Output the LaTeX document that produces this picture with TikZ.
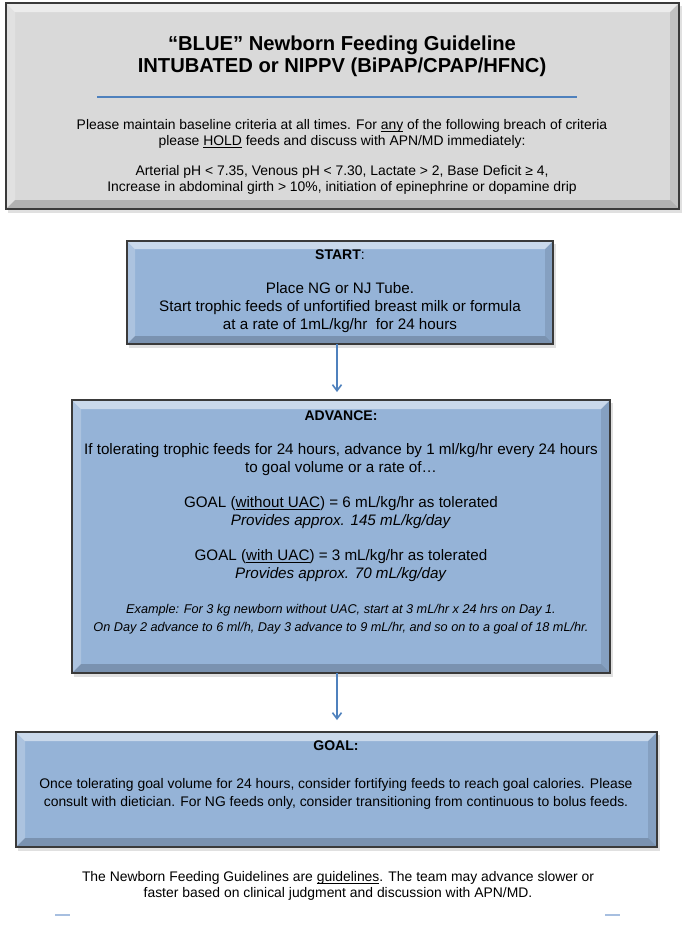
\documentclass[tikz,border=0pt]{standalone}
\usepackage{fontspec}
\setmainfont{Liberation Sans}
\usetikzlibrary{calc,arrows.meta}
\definecolor{boxblue}{HTML}{95B3D7}
\definecolor{boxgray}{HTML}{D9D9D9}
\definecolor{linkblue}{HTML}{4F81BD}
\definecolor{edgegray}{HTML}{3A3A3A}
\definecolor{dashblue}{HTML}{A7BFE0}
\newcommand\ulx[1]{\underline{\smash{#1}}}
\newcommand\bevelfx[2]{%
 \fill[white,opacity=.5] (#1.north west) -- (#1.north east) -- ($(#1.north east)+(-#2,#2)$) -- ($(#1.north west)+(#2,#2)$) -- cycle;
 \fill[white,opacity=.22] (#1.north west) -- ($(#1.north west)+(#2,#2)$) -- ($(#1.south west)+(#2,-#2)$) -- (#1.south west) -- cycle;
 \fill[black,opacity=.10] (#1.north east) -- ($(#1.north east)+(-#2,#2)$) -- ($(#1.south east)+(-#2,-#2)$) -- (#1.south east) -- cycle;
 \fill[black,opacity=.18] (#1.south west) -- ($(#1.south west)+(#2,-#2)$) -- ($(#1.south east)+(-#2,-#2)$) -- (#1.south east) -- cycle;
 \draw[edgegray,line width=1.3pt] (#1.north west) rectangle (#1.south east);}
\newcommand\shadowfx[1]{%
 \fill[black,opacity=.12] ($(#1.north west)+(2,3)$) rectangle ($(#1.south east)+(3,4)$);}
\tikzset{
 panel/.style={inner sep=0pt, outer sep=0pt, anchor=north west},
 txt/.style={align=center, inner sep=0pt, font=\fontsize{13.9}{16}\selectfont},
 bodytxt/.style={align=center, inner sep=0pt, font=\fontsize{15.2}{18}\selectfont},
 goaltxt/.style={align=center, inner sep=0pt, font=\fontsize{13.9}{18}\selectfont},
 headtxt/.style={align=center, inner sep=0pt, font=\bfseries\fontsize{14}{16}\selectfont},
 smalltxt/.style={align=center, inner sep=0pt, font=\itshape\fontsize{12.7}{18}\selectfont},
 flow/.style={draw=linkblue, line width=1.6pt, -{Straight Barb[length=6pt,width=9pt,line width=1.6pt]}}
}
\begin{document}
\begin{tikzpicture}[x=1pt,y=-1pt]
\useasboundingbox (0,0) rectangle (685,930);
% top box
\node[panel, minimum width=673pt, minimum height=206pt] (top) at (6,3) {};
\shadowfx{top}
\fill[boxgray] (top.north west) rectangle (top.south east);
\bevelfx{top}{9}
\node[align=center, inner sep=0pt, font=\bfseries\fontsize{20.2}{22}\selectfont] (title) at (342,56) {“BLUE” Newborn Feeding Guideline\\INTUBATED or NIPPV (BiPAP/CPAP/HFNC)};
\coordinate (ruleL) at (97,97);
\coordinate (ruleR) at (577,97);
\draw[linkblue, line width=2.2pt] (ruleL) -- (ruleR);
\node[txt] (crit) at (342,134) {Please maintain baseline criteria at all times. For \ulx{any} of the following breach of criteria\\please \ulx{HOLD} feeds and discuss with APN/MD immediately:};
\node[txt] (list) at (342,180) {Arterial pH < 7.35, Venous pH < 7.30, Lactate > 2, Base Deficit ≥ 4,\\Increase in abdominal girth > 10\%, initiation of epinephrine or dopamine drip};
% start box
\node[panel, minimum width=426pt, minimum height=103pt] (start) at (127,241) {};
\shadowfx{start}
\fill[boxblue] (start.north west) rectangle (start.south east);
\bevelfx{start}{8}
\node[headtxt] (starth) at (340,255) {START\textmd{:}};
\node[bodytxt] (startt) at (340,308) {Place NG or NJ Tube.\\Start trophic feeds of unfortified breast milk or formula\\at a rate of 1mL/kg/hr~ for 24 hours};
% advance box
\node[panel, minimum width=538pt, minimum height=273pt] (adv) at (72,400) {};
\shadowfx{adv}
\fill[boxblue] (adv.north west) rectangle (adv.south east);
\bevelfx{adv}{9}
\node[headtxt] (advh) at (341,416) {ADVANCE:};
\node[bodytxt] (advt) at (341,460) {If tolerating trophic feeds for 24 hours, advance by 1 ml/kg/hr every 24 hours\\to goal volume or a rate of…};
\node[bodytxt] (goal1) at (341,513) {GOAL (\ulx{without UAC}) = 6 mL/kg/hr as tolerated\\\textit{Provides approx. 145 mL/kg/day}};
\node[bodytxt] (goal2) at (341,566) {GOAL (\ulx{with UAC}) = 3 mL/kg/hr as tolerated\\\textit{Provides approx. 70 mL/kg/day}};
\node[smalltxt] (example) at (341,619) {Example: For 3 kg newborn without UAC, start at 3 mL/hr x 24 hrs on Day 1.\\On Day 2 advance to 6 ml/h, Day 3 advance to 9 mL/hr, and so on to a goal of 18 mL/hr.};
% goal box
\node[panel, minimum width=641pt, minimum height=115pt] (goal) at (16,732) {};
\shadowfx{goal}
\fill[boxblue] (goal.north west) rectangle (goal.south east);
\bevelfx{goal}{9}
\node[headtxt] (goalh) at (336,746) {GOAL:};
\node[goaltxt] (goalt) at (336,794) {Once tolerating goal volume for 24 hours, consider fortifying feeds to reach goal calories. Please\\consult with dietician. For NG feeds only, consider transitioning from continuous to bolus feeds.};
% arrows
\draw[flow, shorten >=8pt] (start.south -| 337,0) -- (adv.north -| 337,0);
\draw[flow, shorten >=12pt] (adv.south -| 337,0) -- (goal.north -| 337,0);
% footer
\node[txt] (foot) at (338,886) {The Newborn Feeding Guidelines are \ulx{guidelines}. The team may advance slower or\\faster based on clinical judgment and discussion with APN/MD.};
\coordinate (d1a) at (55,915); \coordinate (d1b) at (70,915);
\coordinate (d2a) at (605,915); \coordinate (d2b) at (620,915);
\draw[dashblue, line width=1.5pt] (d1a) -- (d1b);
\draw[dashblue, line width=1.5pt] (d2a) -- (d2b);
\end{tikzpicture}
\end{document}
